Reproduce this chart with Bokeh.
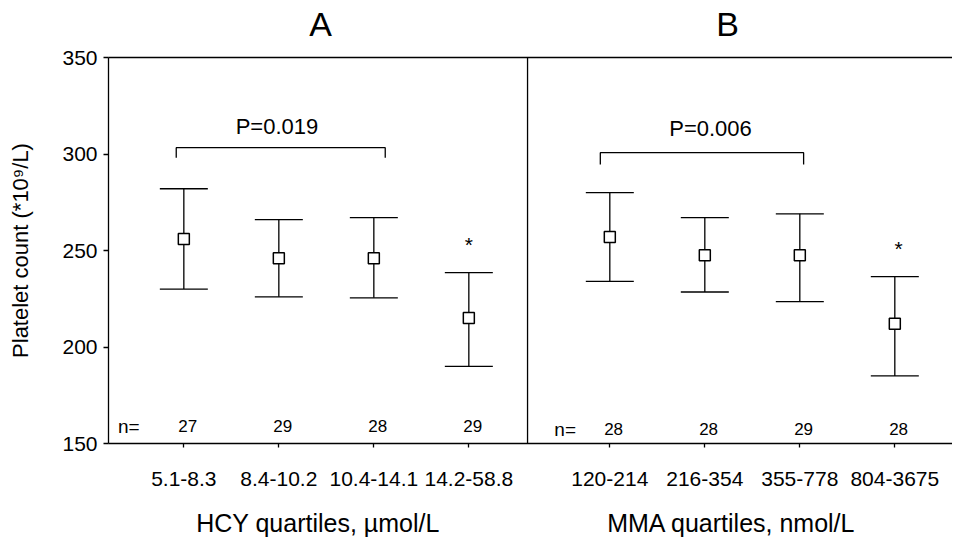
from bokeh.plotting import figure
from bokeh.models import (Range1d, FixedTicker, CustomJSTickFormatter, Whisker, TeeHead,
                          ColumnDataSource, Span, LinearAxis)
from bokeh.core.properties import value
from bokeh.embed import file_html
from bokeh.resources import INLINE

# ---------------- data ----------------
hcy_labels = ["5.1-8.3", "8.4-10.2", "10.4-14.1", "14.2-58.8"]
mma_labels = ["120-214", "216-354", "355-778", "804-3675"]

hcy_mean = [256, 246, 246, 215]
hcy_upper = [282, 266, 267, 238.5]
hcy_lower = [230, 226, 225.5, 190]

mma_mean = [257, 247.5, 247.5, 212]
mma_upper = [280, 267, 269, 236.5]
mma_lower = [234, 228.5, 223.5, 185]

hcy_n = ["27", "29", "28", "29"]
mma_n = ["28", "28", "29", "28"]

p_values = ["P=0.019", "P=0.006"]
bracket_y = [303.3, 300.7]
bracket_leg_y = [298.1, 294.6]
p_text_y = [314.2, 313.4]
star_y = [253, 251]
n_row_y = [159, 157.5]

y_ticks = [150, 200, 250, 300, 350]
panel_titles = ["A", "B"]
x_titles = ["HCY quartiles, µmol/L", "MMA quartiles, nmol/L"]
y_title = "Platelet count (*10⁹/L)"

# ---------------- layout helpers ----------------
FONT = value("Liberation Sans")
GAP = 4.484
hcy_x = [i + 1 for i in range(len(hcy_labels))]
mma_x = [i + 1 + GAP for i in range(len(mma_labels))]
DIVIDER = 4.618
X0 = 0.207
PX_PER_UNIT = 95.0

W, H = 952, 540
LEFT, TOP, FRAME_H = 108, 57, 386
p = figure(width=W, height=H, output_backend="svg", toolbar_location=None,
           x_range=Range1d(X0, X0 + (W - LEFT) / PX_PER_UNIT), y_range=Range1d(150, 350),
           min_border_left=LEFT, min_border_right=0, min_border_top=TOP,
           min_border_bottom=H - TOP - FRAME_H)
p.outline_line_color = None
p.grid.visible = False
p.background_fill_color = "white"
p.border_fill_color = "white"

# axes
for ax in (p.xaxis[0], p.yaxis[0]):
    ax.axis_line_color = "black"
    ax.axis_line_width = 1.3
    ax.major_tick_line_color = "black"
    ax.major_tick_line_width = 1.3
    ax.major_tick_in = 0
    ax.minor_tick_line_color = None
    ax.major_label_text_font = "Liberation Sans"
    ax.major_label_text_font_size = "21px"
    ax.major_label_text_color = "black"

p.yaxis.ticker = FixedTicker(ticks=y_ticks)
p.yaxis.major_tick_out = 5
p.yaxis.major_label_standoff = 6
p.yaxis.axis_label = y_title
p.yaxis.axis_label_text_font = "Liberation Sans"
p.yaxis.axis_label_text_font_size = "22px"
p.yaxis.axis_label_text_font_style = "normal"
p.yaxis.axis_label_text_color = "black"
p.yaxis.axis_label_standoff = 26

all_x = hcy_x + mma_x
all_labels = hcy_labels + mma_labels
p.xaxis.ticker = FixedTicker(ticks=all_x)
p.xaxis.formatter = CustomJSTickFormatter(args=dict(labels=all_labels),
                                          code="return labels[index] ?? '';")
p.xaxis.major_tick_out = 4
p.xaxis.major_label_standoff = 24

# second "below" axis carrying the two x titles
title_x = [2.439, 6.723]
xt_x = [2.412, 6.765]
xt_axis = LinearAxis(ticker=FixedTicker(ticks=xt_x),
                     formatter=CustomJSTickFormatter(args=dict(labels=x_titles),
                                                     code="return labels[index] ?? '';"),
                     axis_line_color=None, major_tick_line_color=None,
                     minor_tick_line_color=None, major_label_standoff=14,
                     major_label_text_font="Liberation Sans",
                     major_label_text_font_size="25px", major_label_text_color="black")
p.add_layout(xt_axis, "below")

# "above" axis: top border of the frame plus panel titles A / B
top_axis = LinearAxis(ticker=FixedTicker(ticks=title_x),
                      formatter=CustomJSTickFormatter(args=dict(labels=panel_titles),
                                                      code="return labels[index] ?? '';"),
                      axis_line_color="black", axis_line_width=1.3,
                      major_tick_line_color=None, minor_tick_line_color=None,
                      major_label_standoff=9, major_label_text_font="Liberation Sans",
                      major_label_text_font_size="34px", major_label_text_color="black")
p.add_layout(top_axis, "above")

# divider between panels
p.add_layout(Span(location=DIVIDER, dimension="height", line_color="black", line_width=1.3))

# error bars
src = ColumnDataSource(dict(x=all_x, m=hcy_mean + mma_mean,
                            up=hcy_upper + mma_upper, lo=hcy_lower + mma_lower))
w = Whisker(base="x", upper="up", lower="lo", source=src, dimension="height",
            line_color="black", line_width=1.3, level="underlay",
            upper_head=TeeHead(size=48, line_color="black", line_width=1.3),
            lower_head=TeeHead(size=48, line_color="black", line_width=1.3))
p.add_layout(w)

p.scatter("x", "m", source=src, marker="square", size=11, fill_color="white",
          line_color="black", line_width=1.5)

# brackets
bx = [[hcy_x[0] - 0.08, hcy_x[0] - 0.08, hcy_x[2] + 0.12, hcy_x[2] + 0.12],
      [mma_x[0] - 0.10, mma_x[0] - 0.10, mma_x[2] + 0.04, mma_x[2] + 0.04]]
by = [[bracket_leg_y[i], bracket_y[i], bracket_y[i], bracket_leg_y[i]] for i in range(2)]
p.multi_line(bx, by, line_color="black", line_width=1.3)

# P values
p.text(x=[hcy_x[1] - 0.02, mma_x[1] + 0.06], y=p_text_y, text=p_values,
       text_align="center", text_baseline="middle", text_font=FONT,
       text_font_size="22px", text_color="black")

# stars
p.text(x=[hcy_x[3], mma_x[3] + 0.04], y=star_y, text=["*", "*"],
       text_align="center", text_baseline="middle", text_font=FONT,
       text_font_size="21px", text_color="black")

# n row
p.text(x=[hcy_x[0] - 0.58, mma_x[0] - 0.47], y=[n_row_y[0], n_row_y[1]], text=["n=", "n="],
       text_align="center", text_baseline="middle", text_font=FONT,
       text_font_size="19px", text_color="black")
p.text(x=[v + 0.04 for v in hcy_x] + [v + 0.04 for v in mma_x],
       y=[n_row_y[0]] * 4 + [n_row_y[1]] * 4, text=hcy_n + mma_n,
       text_align="center", text_baseline="middle", text_font=FONT,
       text_font_size="17px", text_color="black")

open("out.html", "w").write(file_html(p, INLINE))
